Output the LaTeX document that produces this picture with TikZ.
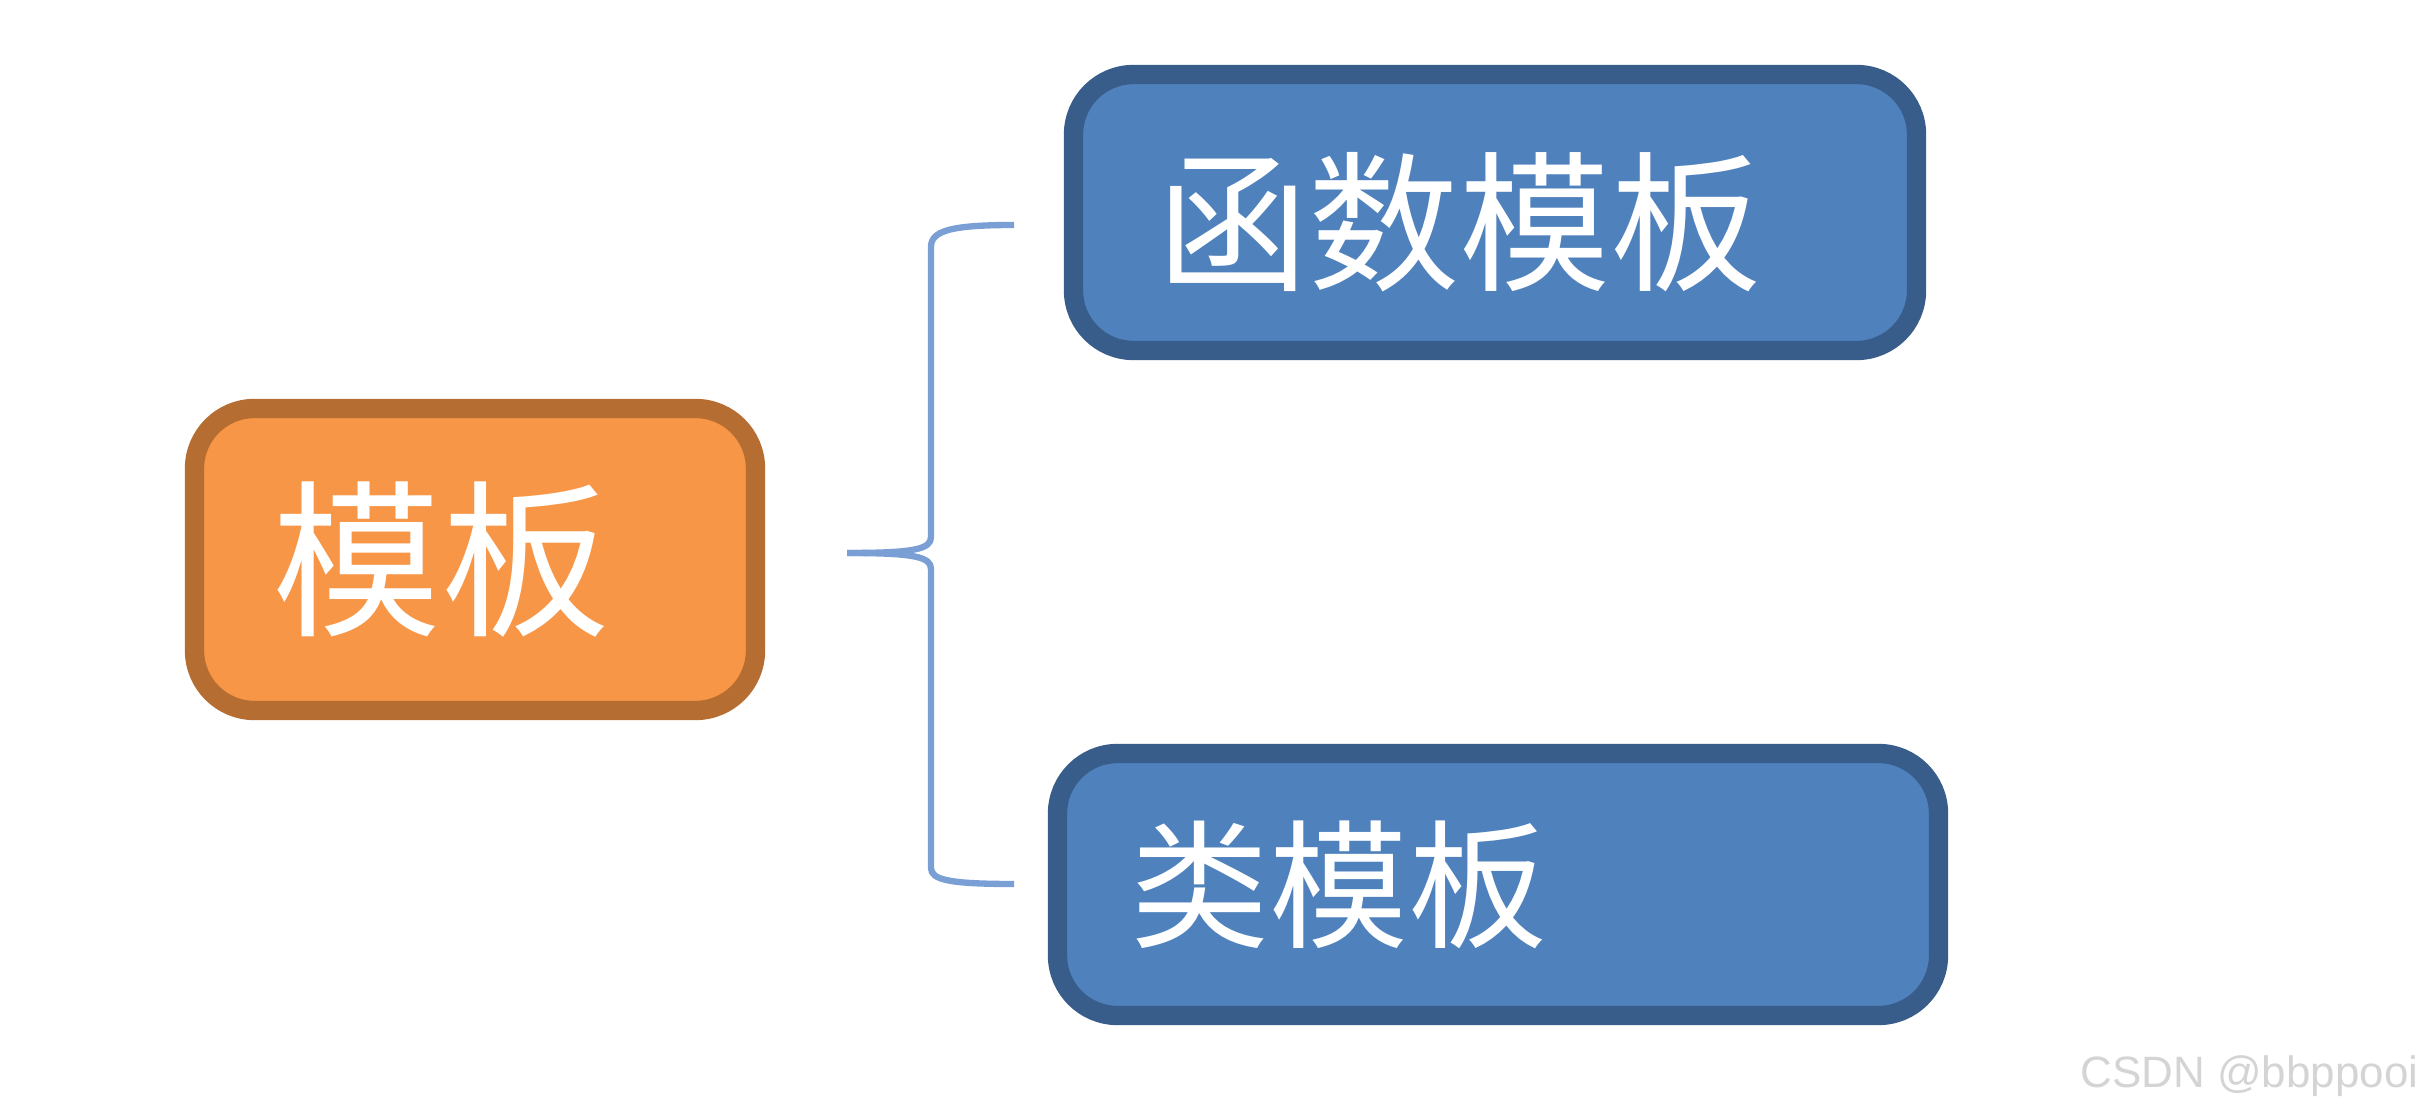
\documentclass[tikz,border=0pt]{standalone}
\usepackage{fontspec}
\setsansfont{Liberation Sans}
\newfontfamily\cjk{Noto Sans CJK SC}
\usetikzlibrary{calc, positioning}

\definecolor{boxorange}{HTML}{F79646}
\definecolor{edgeorange}{HTML}{B66D31}
\definecolor{boxblue}{HTML}{4F81BD}
\definecolor{edgeblue}{HTML}{385D8A}
\definecolor{bracecol}{HTML}{7A9FD4}
\definecolor{markgray}{HTML}{D4D4D4}

\tikzset{
  tplbox/.style={draw, rounded corners=0.6cm, line width=5.5pt,
    align=left, inner ysep=0pt, font=\cjk, text=white},
  orangebox/.style={tplbox, fill=boxorange, draw=edgeorange},
  bluebox/.style={tplbox, fill=boxblue, draw=edgeblue},
}

\begin{document}
\begin{tikzpicture}
\useasboundingbox (0,0) rectangle (24.24,11.11);

\node[orangebox, minimum width=5.61cm, minimum height=3.02cm,
  inner xsep=0.78cm, text width=4.05cm] (tpl) at (4.75,5.515)
  {\fontsize{48}{56}\selectfont 模板};

\node[bluebox, minimum width=8.43cm, minimum height=2.76cm,
  inner xsep=0.84cm, text width=6.75cm, text height=1.5cm,
  text depth=0.16cm] (functpl) at (14.95,8.985)
  {\fontsize{43}{50}\selectfont 函数模板};

\node[bluebox, minimum width=8.81cm, minimum height=2.62cm,
  inner xsep=0.73cm, text width=7.35cm] (classtpl) at (14.98,2.265)
  {\fontsize{39.5}{46}\selectfont 类模板};

\coordinate (tip) at (8.47,5.58);
\coordinate (armtop) at (10.14,8.86);
\coordinate (armbot) at (10.14,2.27);

\draw[bracecol, line width=1.8pt]
  (armtop) .. controls (9.50,8.86) and (9.31,8.80) .. (9.31,8.64)
  -- (9.31,5.74) .. controls (9.31,5.62) and (9.15,5.58) .. (tip);
\draw[bracecol, line width=1.8pt]
  (tip) .. controls (9.15,5.58) and (9.31,5.54) .. (9.31,5.42)
  -- (9.31,2.43) .. controls (9.31,2.31) and (9.50,2.27) .. (armbot);

\node[anchor=base east, font=\sffamily\fontsize{12.5}{15}\selectfont,
  text=markgray, inner sep=0pt] (mark) at (24.19,0.24) {CSDN @bbppooi};
\end{tikzpicture}
\end{document}
